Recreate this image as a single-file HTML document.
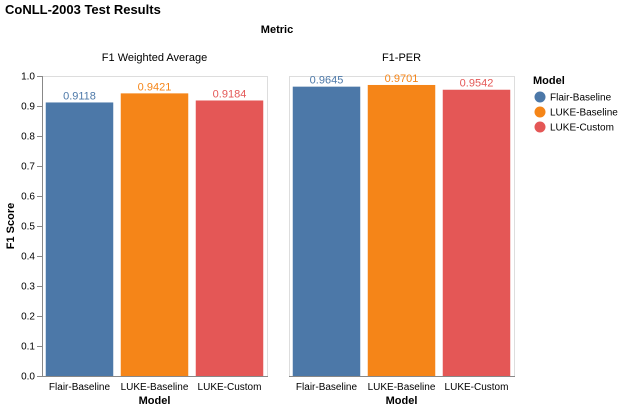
<!DOCTYPE html>
<html><head><meta charset="utf-8">
<style>
html,body{margin:0;padding:0;background:#fff;}
svg{display:block;font-family:"Liberation Sans",Helvetica,Arial,sans-serif;}
</style></head>
<body>
<svg id="chart" width="622" height="409" viewBox="0 0 622 409">
<text x="5" y="14" font-size="13" font-weight="bold" fill="#000">CoNLL-2003 Test Results</text>
<text x="277" y="33" font-size="11" font-weight="bold" text-anchor="middle">Metric</text>
<g id="plots"></g>
<text transform="translate(14,226) rotate(-90)" font-size="11" font-weight="bold" text-anchor="middle">F1 Score</text>
<g id="legend"></g>
</svg>
<script>
const metrics = ["F1 Weighted Average", "F1-PER"];
const models = ["Flair-Baseline", "LUKE-Baseline", "LUKE-Custom"];
const valuesF1Weighted = [0.9118, 0.9421, 0.9184];
const valuesF1Per = [0.9645, 0.9701, 0.9542];
const labelsF1Weighted = ["0.9118", "0.9421", "0.9184"];
const labelsF1Per = ["0.9645", "0.9701", "0.9542"];
const yTicks = [0, 0.1, 0.2, 0.3, 0.4, 0.5, 0.6, 0.7, 0.8, 0.9, 1.0];
const yTickLabels = ["0.0","0.1","0.2","0.3","0.4","0.5","0.6","0.7","0.8","0.9","1.0"];

const colors = ["#4c78a8", "#f58518", "#e45756"];
const NS = "http://www.w3.org/2000/svg";
const plotTop = 76, plotBottom = 376, pw = 225;
const panelX = [42, 289];
function y(v){ return plotBottom - v*(plotBottom-plotTop); }
function xBand(px, i){ const step = pw/3; return px + step*0.05 + i*step; }
const bw = pw/3*0.9;
function mk(tag, attrs, parent){ const e=document.createElementNS(NS,tag); for(const k in attrs) e.setAttribute(k,attrs[k]); parent.appendChild(e); return e; }
const plots = document.getElementById('plots');
const allVals = [valuesF1Weighted, valuesF1Per];
const allLabels = [labelsF1Weighted, labelsF1Per];
metrics.forEach((m, p) => {
  const px = panelX[p];
  const g = mk('g', {}, plots);
  
  
  const fr = mk('rect', {x:px+0.5, y:plotTop+0.5, width:pw, height:plotBottom-plotTop, fill:'none', stroke:'#ddd'}, g);
  
  
  const t = mk('text', {x:px+pw/2, y:61, 'font-size':11, 'text-anchor':'middle'}, g);
  t.textContent = m;
  
  
  if (p===0){
    mk('line',{x1:px+0.5,y1:plotTop,x2:px+0.5,y2:plotBottom+0.5,stroke:'#888'},g);
    yTicks.forEach((v,i)=>{
      mk('line',{x1:px-5,y1:y(v)+0.5,x2:px,y2:y(v)+0.5,stroke:'#888'},g);
      const tl = mk('text',{x:px-7,y:y(v)+3.5,'font-size':10,'text-anchor':'end'},g);
      tl.textContent = yTickLabels[i];
      
      
    });
  }
  models.forEach((mod, i) => {
    const v = allVals[p][i];
    const bx = xBand(px, i);
    const r = mk('rect',{x:bx, y:y(v), width:bw, height:plotBottom-y(v), fill:colors[i]}, g);
    
    
    const lt = mk('text',{x:bx+bw/2, y:y(v)-3, 'font-size':11, 'text-anchor':'middle', fill:colors[i]}, g);
    lt.textContent = allLabels[p][i];
    
    
    const xl = mk('text',{x:bx+bw/2, y:plotBottom+14, 'font-size':10, 'text-anchor':'middle'}, g);
    xl.textContent = mod;
    
    
  });
  mk('line',{x1:px,y1:plotBottom+0.5,x2:px+pw+1,y2:plotBottom+0.5,stroke:'#888'},g);
  const xt = mk('text',{x:px+pw/2, y:plotBottom+28, 'font-size':11, 'font-weight':'bold', 'text-anchor':'middle'}, g);
  xt.textContent = 'Model';
  
  
});
const lg = document.getElementById('legend');
const lt = mk('text',{x:533,y:84,'font-size':11,'font-weight':'bold'},lg);
lt.textContent = 'Model';


models.forEach((mod,i)=>{
  const cy = 97 + i*15;
  const eg = mk('g',{},lg);
  
  
  mk('circle',{cx:540,cy:cy,r:5.5,fill:colors[i]},eg);
  const tx = mk('text',{x:550,y:cy+3.5,'font-size':10},eg);
  tx.textContent = mod;
});
</script>
</body></html>
